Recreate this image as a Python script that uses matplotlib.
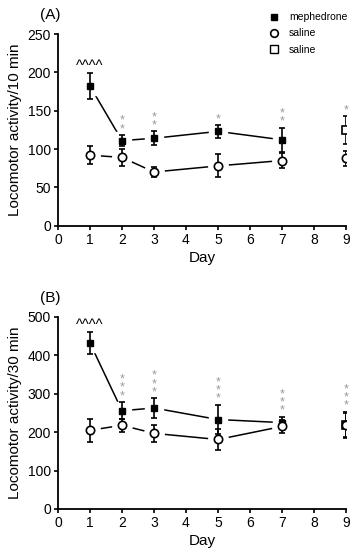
import matplotlib
matplotlib.use("Agg")
import matplotlib.pyplot as plt
import numpy as np
from matplotlib.lines import Line2D

plt.rcParams['font.family'] = ['Liberation Sans', 'DejaVu Sans']

days = [1, 2, 3, 5, 7]
day9 = 9

# Panel A (10 min)
a_meph = [182, 111, 114, 123, 112]
a_meph_err = [17, 7, 9, 8, 16]
a_sal = [92, 89, 70, 78, 85]
a_sal_err = [12, 11, 7, 15, 10]
a_sq9, a_sq9_err = 125, 18
a_ci9, a_ci9_err = 88, 10
a_stars = ["**", "**", "*", "**"]
a_star9 = "*"

# Panel B (30 min)
b_meph = [432, 256, 263, 233, 225]
b_meph_err = [28, 22, 25, 38, 15]
b_sal = [205, 218, 197, 181, 215]
b_sal_err = [30, 17, 22, 28, 18]
b_sq9, b_sq9_err = 220, 33
b_ci9, b_ci9_err = 218, 32
b_stars = ["***", "***", "***", "***"]
b_star9 = "***"

fig = plt.figure(figsize=(3.57, 5.5), dpi=100)
axA = fig.add_axes([58/357, 1-225.7/550, 288/357, 191.7/550])
axB = fig.add_axes([58/357, 1-509/550, 288/357, 192/550])

STAR_COLOR = '#9a9a9a'

def draw(ax, meph, meph_err, sal, sal_err, sq9, sq9_err, ci9, ci9_err,
         stars, star9, ymax, ystep, ylabel):
    ax.plot(days, meph, color='black', lw=1.1, zorder=1)
    ax.plot(days, sal, color='black', lw=1.1, zorder=1)
    # white masks to create gaps around markers
    ax.plot(days, meph, ls='none', marker='s', ms=13, mfc='white', mec='white', zorder=2)
    ax.plot(days, sal, ls='none', marker='o', ms=14, mfc='white', mec='white', zorder=2)
    ekw = dict(fmt='none', ecolor='black', elinewidth=1.2, capsize=2.5, capthick=1.2, zorder=3)
    ax.errorbar(days, meph, yerr=meph_err, **ekw)
    ax.errorbar(days, sal, yerr=sal_err, **ekw)
    ax.errorbar([day9], [sq9], yerr=[sq9_err], **ekw)
    ax.errorbar([day9], [ci9], yerr=[ci9_err], **ekw)
    ax.plot(days, meph, ls='none', marker='s', ms=5, mfc='black', mec='black', zorder=4)
    ax.plot(days, sal, ls='none', marker='o', ms=6, mfc='white', mec='black', mew=1.2, zorder=4)
    ax.plot([day9], [sq9], ls='none', marker='s', ms=6, mfc='white', mec='black', mew=1.2, zorder=4)
    ax.plot([day9], [ci9], ls='none', marker='o', ms=6, mfc='white', mec='black', mew=1.2, zorder=5)
    # significance
    ax.annotate("^^^^", (days[0], meph[0] + meph_err[0]), xytext=(0, 0),
                textcoords='offset points', ha='center', va='bottom', fontsize=10.5)
    for d, m, e, s in zip(days[1:], meph[1:], meph_err[1:], stars):
        ax.annotate("\n".join(s), (d, m + e), xytext=(0, 0), textcoords='offset points',
                    ha='center', va='bottom', fontsize=9, color=STAR_COLOR, linespacing=0.6)
    ax.annotate("\n".join(star9), (day9, sq9 + sq9_err), xytext=(0, 0), textcoords='offset points',
                ha='center', va='bottom', fontsize=9, color=STAR_COLOR, linespacing=0.6)
    ax.set_xlim(0, 9)
    ax.set_ylim(0, ymax)
    ax.set_xticks(range(0, 10))
    ax.set_yticks(np.arange(0, ymax + 1, ystep))
    ax.spines['top'].set_visible(False)
    ax.spines['right'].set_visible(False)
    ax.spines['left'].set_linewidth(1.3)
    ax.spines['bottom'].set_linewidth(1.3)
    ax.tick_params(direction='out', length=3, width=1.2, labelsize=10, pad=2)
    ax.set_xlabel("Day", fontsize=11, labelpad=3)
    ax.set_ylabel(ylabel, fontsize=11, labelpad=4)
    for sp in ax.spines.values():
        sp.set_clip_on(False)

draw(axA, a_meph, a_meph_err, a_sal, a_sal_err, a_sq9, a_sq9_err, a_ci9, a_ci9_err,
     a_stars, a_star9, 250, 50, "Locomotor activity/10 min")
draw(axB, b_meph, b_meph_err, b_sal, b_sal_err, b_sq9, b_sq9_err, b_ci9, b_ci9_err,
     b_stars, b_star9, 500, 100, "Locomotor activity/30 min")

fig.text(40/357, 1-15/550, "(A)", fontsize=11, va='center')
fig.text(40/357, 1-298/550, "(B)", fontsize=11, va='center')

handles = [
    Line2D([], [], ls='none', marker='s', ms=5, mfc='black', mec='black'),
    Line2D([], [], ls='none', marker='o', ms=5.5, mfc='white', mec='black', mew=1.2),
    Line2D([], [], ls='none', marker='s', ms=5.5, mfc='white', mec='black', mew=1.0),
]
fig.legend(handles, ["mephedrone", "saline", "saline"], loc='upper left',
           bbox_to_anchor=(264/357, 1-7/550), frameon=False, fontsize=7.5,
           handlelength=1.0, handletextpad=0.9, labelspacing=0.6, borderpad=0)

fig.savefig("out.png", dpi=100)
